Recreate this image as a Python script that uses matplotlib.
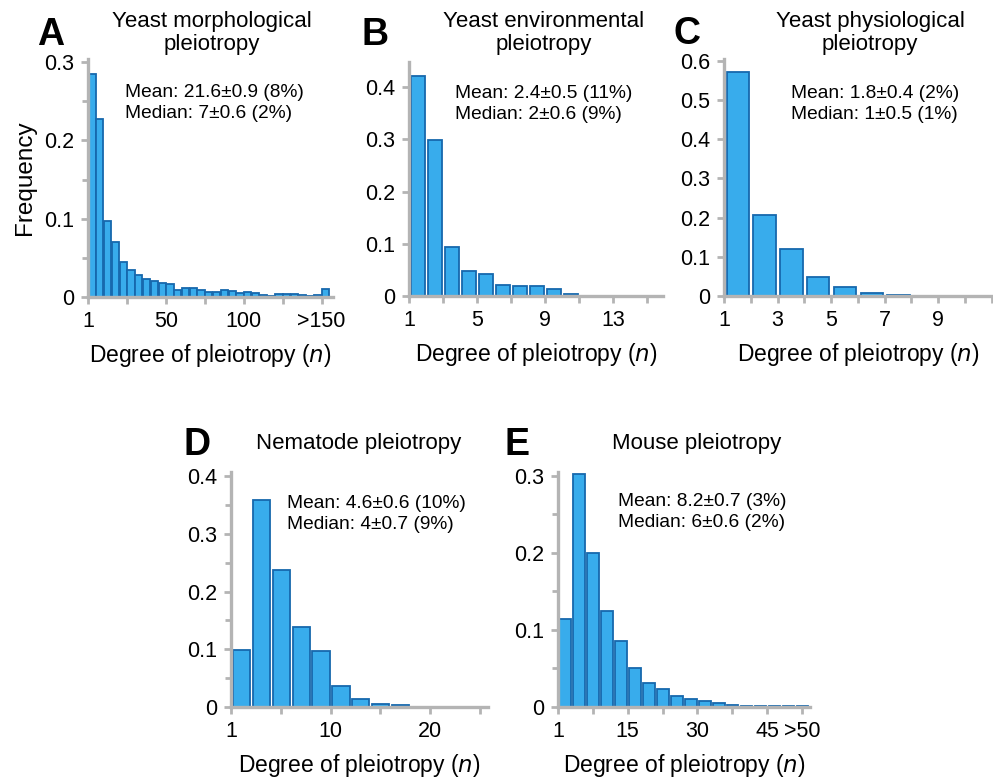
import numpy as np
import matplotlib
matplotlib.use("Agg")
import matplotlib.pyplot as plt
from matplotlib.ticker import FixedLocator, MultipleLocator

plt.rcParams['font.family'] = ['Liberation Sans', 'DejaVu Sans']

# --- data ---
# A: yeast morphological, bins of 5 (last bin is >150)
a_freq = [0.285, 0.227, 0.097, 0.070, 0.045, 0.034, 0.028, 0.023, 0.020, 0.018,
          0.016, 0.009, 0.012, 0.011, 0.0085, 0.006, 0.006, 0.009, 0.0075, 0.005,
          0.007, 0.005, 0.0025, 0.0015, 0.004, 0.0035, 0.0035, 0.002, 0.001, 0.002,
          0.010]
# B: yeast environmental, n = 1..15
b_freq = [0.421, 0.298, 0.093, 0.048, 0.042, 0.021, 0.019, 0.019, 0.013, 0.003,
          0.0006, 0.0008, 0.0003, 0.0, 0.0]
# C: yeast physiological, n = 1..10
c_freq = [0.573, 0.207, 0.121, 0.048, 0.022, 0.0085, 0.0035, 0.0006, 0.0003, 0.0]
# D: nematode, bins of 2
d_freq = [0.098, 0.358, 0.238, 0.138, 0.097, 0.036, 0.013, 0.005, 0.0035, 0.0, 0.0, 0.0]
# E: mouse, bins of 3 (last bin is >50)
e_freq = [0.114, 0.302, 0.200, 0.124, 0.086, 0.050, 0.031, 0.024, 0.014, 0.0105,
          0.0075, 0.005, 0.003, 0.0018, 0.001, 0.001, 0.001, 0.0015]

titles = ['Yeast morphological\npleiotropy', 'Yeast environmental\npleiotropy',
          'Yeast physiological\npleiotropy', 'Nematode pleiotropy', 'Mouse pleiotropy']
letters = ['A', 'B', 'C', 'D', 'E']
stats = ['Mean: 21.6±0.9 (8%)\nMedian: 7±0.6 (2%)',
         'Mean: 2.4±0.5 (11%)\nMedian: 2±0.6 (9%)',
         'Mean: 1.8±0.4 (2%)\nMedian: 1±0.5 (1%)',
         'Mean: 4.6±0.6 (10%)\nMedian: 4±0.7 (9%)',
         'Mean: 8.2±0.7 (3%)\nMedian: 6±0.6 (2%)']

W, H = 993, 782
FILL = '#38acec'
EDGE = '#1668ad'
GREY = '#b4b4b4'


def px_axes(fig, x0, x1, y_top, y_bot):
    return fig.add_axes([x0 / W, 1 - y_bot / H, (x1 - x0) / W, (y_bot - y_top) / H])


def fig_text(fig, x, y, s, **kw):
    fig.text(x / W, 1 - y / H, s, **kw)


def ticklabels(ticks, shown):
    return [shown.get(t, '') for t in ticks]


def style(ax, xlim, ylim, xticks, xlabels, ymajor, yminor=None):
    ax.set_xlim(*xlim)
    ax.set_ylim(*ylim)
    for side in ['top', 'right']:
        ax.spines[side].set_visible(False)
    for side in ['left', 'bottom']:
        ax.spines[side].set_color(GREY)
        ax.spines[side].set_linewidth(2.4)
    ax.xaxis.set_major_locator(FixedLocator(xticks))
    ax.set_xticklabels(xlabels)
    ax.yaxis.set_major_locator(MultipleLocator(ymajor))
    if yminor:
        ax.yaxis.set_minor_locator(MultipleLocator(yminor))
        ax.tick_params(axis='y', which='minor', length=4, width=2, color=GREY)
    ax.tick_params(axis='both', which='major', length=5, width=2, color=GREY,
                   labelsize=15.5, pad=5)
    ax.yaxis.set_major_formatter(plt.FuncFormatter(lambda v, p: '0' if v == 0 else f'{v:.1f}'))
    ax.set_xlabel('Degree of pleiotropy ($\\it{n}$)', fontsize=16.5, labelpad=7)


def bars(ax, freq, start, binw, frac):
    lefts = start + binw * np.arange(len(freq))
    gap = binw * (1 - frac)
    ax.bar(lefts + gap / 2 + binw * 0.02, freq, width=binw * frac, align='edge',
           color=FILL, edgecolor=EDGE, linewidth=1.3, zorder=1)


fig = plt.figure(figsize=(W / 100, H / 100), dpi=100)

# A
ax = px_axes(fig, 88, 333, 59, 297)
bars(ax, a_freq, 0, 5, 0.92)
ta = list(range(0, 151, 25))
style(ax, (0, 157.3), (0, 0.304), ta, ticklabels(ta, {0: '1', 50: '50', 100: '100', 150: '>150'}), 0.1, 0.05)
ax.set_ylabel('Frequency', fontsize=17.5, labelpad=6)

# B
ax = px_axes(fig, 409, 663, 62, 296)
bars(ax, b_freq, 1, 1, 0.86)
tb = list(range(1, 16, 2))
style(ax, (1, 15.93), (0, 0.448), tb, ticklabels(tb, {1: '1', 5: '5', 9: '9', 13: '13'}), 0.1)

# C
ax = px_axes(fig, 724, 993, 59, 296)
bars(ax, c_freq, 1, 1, 0.84)
tc = list(range(1, 12))
style(ax, (1, 11.05), (0, 0.605), tc, ticklabels(tc, {1: '1', 3: '3', 5: '5', 7: '7', 9: '9'}), 0.1)

# D
ax = px_axes(fig, 231, 488, 472, 707)
bars(ax, d_freq, 0, 2, 0.86)
td = list(range(0, 26, 5))
style(ax, (0, 25.8), (0, 0.407), td, ticklabels(td, {0: '1', 10: '10', 20: '20'}), 0.1, 0.05)

# E
ax = px_axes(fig, 558, 810, 472, 707)
bars(ax, e_freq, 0, 3, 0.84)
te = list(np.arange(0, 53, 7.5))
style(ax, (0, 54.2), (0, 0.305), te, ticklabels(te, {0: '1', 15: '15', 30: '30', 45: '45', 52.5: '>50'}), 0.1, 0.05)

# panel letters, titles, stats
letter_pos = [(51, 35), (375, 35), (687, 34), (197, 445), (517, 445)]
title_pos = [(212, 33), (544, 33), (870, 33), (359, 444), (697, 444)]
stat_pos = [(125, 103), (455, 104), (791, 104), (287, 514), (618, 512)]
for i in range(5):
    fig_text(fig, *letter_pos[i], letters[i], fontsize=27, fontweight='bold',
             ha='center', va='center')
    fig_text(fig, *title_pos[i], titles[i], fontsize=16, ha='center', va='center',
             linespacing=1.15)
    fig_text(fig, *stat_pos[i], stats[i], fontsize=13.8, ha='left', va='center',
             linespacing=1.3)

fig.savefig('out.png', dpi=100)
